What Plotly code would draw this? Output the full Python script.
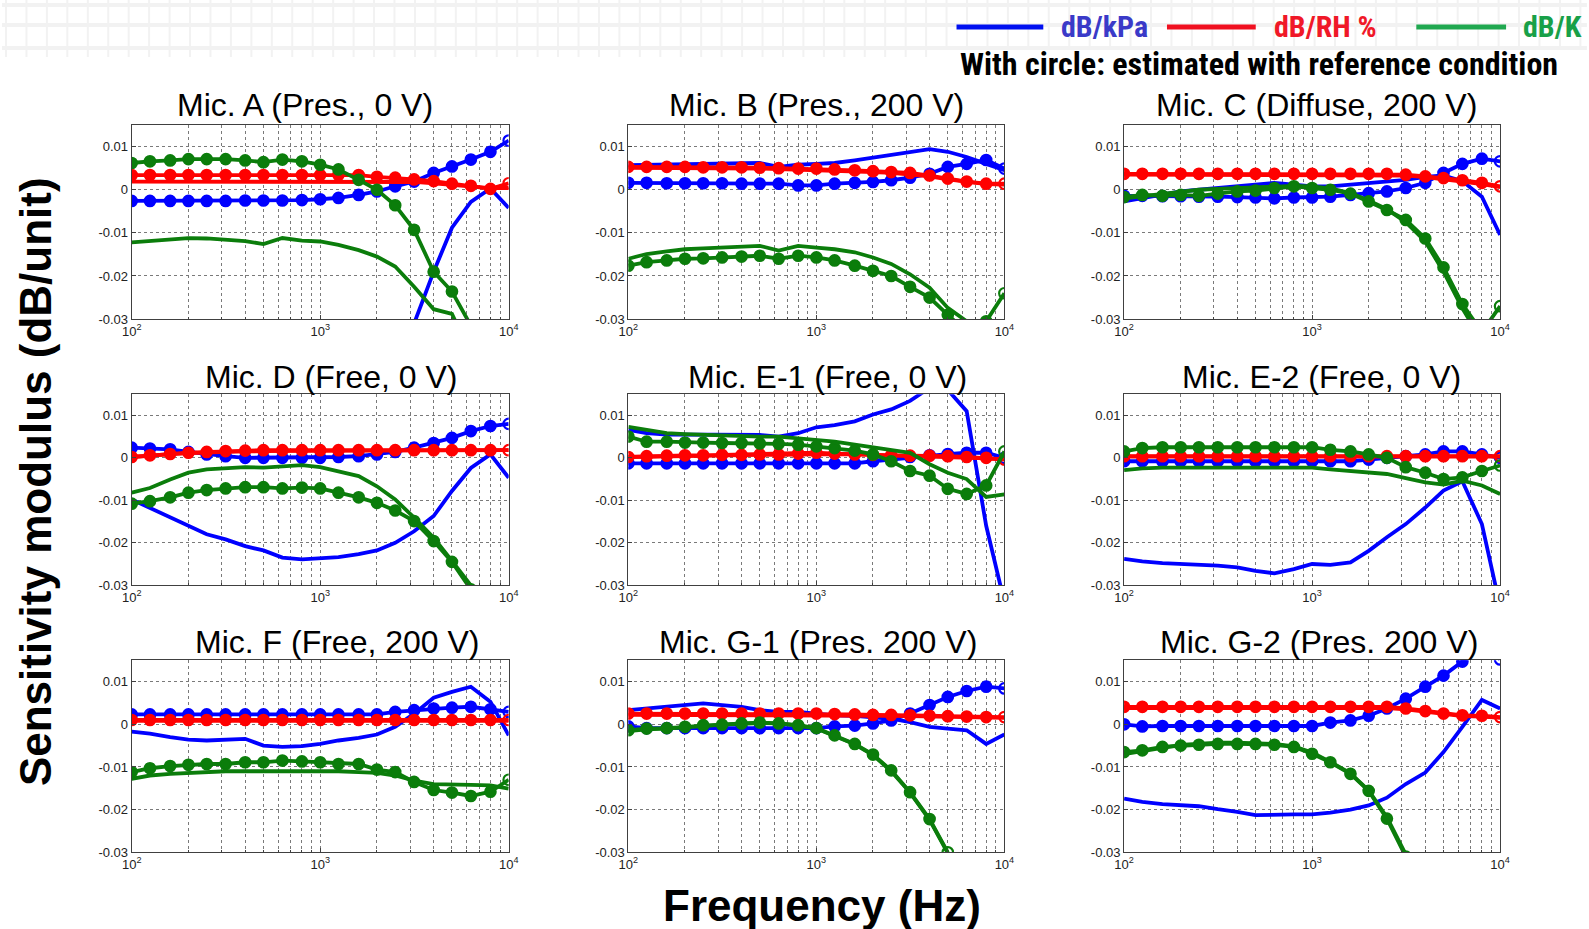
import plotly.graph_objects as go

N = None
W, H = 1589, 929

# ---------------- data ----------------
FREQ = [100, 125, 160, 200, 250, 315, 400, 500, 630, 800, 1000,
        1250, 1600, 2000, 2500, 3150, 4000, 5000, 6300, 8000, 10000]

X_TICKS = [100, 1000, 10000]
X_TICK_TEXT = ["10<sup>2</sup>", "10<sup>3</sup>", "10<sup>4</sup>"]
X_MINOR = [200, 300, 400, 500, 600, 700, 800, 900,
           2000, 3000, 4000, 5000, 6000, 7000, 8000, 9000]
Y_TICKS = [-0.03, -0.02, -0.01, 0, 0.01]
Y_TICK_TEXT = ["-0.03", "-0.02", "-0.01", "0", "0.01"]

TITLES = ["Mic. A (Pres., 0 V)", "Mic. B (Pres., 200 V)", "Mic. C (Diffuse, 200 V)",
          "Mic. D (Free, 0 V)", "Mic. E-1 (Free, 0 V)", "Mic. E-2 (Free, 0 V)",
          "Mic. F (Free, 200 V)", "Mic. G-1 (Pres. 200 V)", "Mic. G-2 (Pres. 200 V)"]
LEGEND_NAMES = ["dB/kPa", "dB/RH %", "dB/K"]
NOTE = "With circle: estimated with reference condition"
X_LABEL = "Frequency (Hz)"
Y_LABEL = "Sensitivity modulus (dB/unit)"

# Mic. A
A_kpa = [N, N, N, N, N, N, N, N, N, N, N, N, N, N, N, -0.031, -0.019, -0.0088, -0.0028, 0.0003, -0.0042]
A_kpa_c = [-0.0026, -0.0026, -0.0026, -0.0026, -0.0026, -0.0026, -0.0025, -0.0025, -0.0025, -0.0024, -0.0022,
           -0.0019, -0.0012, -0.0004, 0.0008, 0.0019, 0.0039, 0.0054, 0.0070, 0.0088, 0.0114]
A_rh = [0.0019, 0.0019, 0.0019, 0.0019, 0.0019, 0.0019, 0.0019, 0.0019, 0.0019, 0.0019, 0.0019,
        0.0019, 0.0019, 0.0019, 0.0019, 0.0018, 0.0015, 0.0012, 0.0008, 0.0004, 0.0004]
A_rh_c = [0.0034, 0.0034, 0.0034, 0.0034, 0.0034, 0.0034, 0.0034, 0.0034, 0.0034, 0.0034, 0.0034,
          0.0034, 0.0034, 0.0030, 0.0028, 0.0024, 0.0020, 0.0014, 0.0009, 0.0002, 0.0015]
A_k = [-0.0122, -0.0119, -0.0115, -0.0112, -0.0113, -0.0115, -0.0119, -0.0126, -0.0112, -0.0118, -0.0120,
       -0.0128, -0.0140, -0.0155, -0.0178, -0.0225, -0.0277, -0.0288, -0.0380, N, N]
A_k_c = [0.0062, 0.0066, 0.0068, 0.0071, 0.0071, 0.0071, 0.0068, 0.0064, 0.0070, 0.0066, 0.0058,
         0.0047, 0.0023, 0.0000, -0.0036, -0.0093, -0.0190, -0.0236, -0.0315, N, N]

# Mic. B
B_kpa = [0.0057, 0.0058, 0.0059, 0.0060, 0.0060, 0.0061, 0.0061, 0.0062, 0.0053, 0.0058, 0.0060,
         0.0062, 0.0068, 0.0074, 0.0080, 0.0086, 0.0094, 0.0088, 0.0076, 0.0060, 0.0045]
B_kpa_c = [0.0016, 0.0016, 0.0015, 0.0015, 0.0015, 0.0015, 0.0014, 0.0014, 0.0014, 0.0010, 0.0010,
           0.0014, 0.0016, 0.0018, 0.0022, 0.0028, 0.0037, 0.0053, 0.0060, 0.0069, 0.0049]
B_rh = [0.0051, 0.0051, 0.0051, 0.0051, 0.0051, 0.0050, 0.0050, 0.0049, 0.0048, 0.0047, 0.0046,
        0.0045, 0.0043, 0.0041, 0.0039, 0.0036, 0.0031, 0.0024, 0.0018, 0.0013, 0.0012]
B_rh_c = [0.0053, 0.0053, 0.0053, 0.0053, 0.0052, 0.0052, 0.0052, 0.0051, 0.0050, 0.0049, 0.0049,
          0.0047, 0.0045, 0.0043, 0.0041, 0.0039, 0.0033, 0.0026, 0.0019, 0.0014, 0.0014]
B_k = [-0.0160, -0.0149, -0.0143, -0.0138, -0.0136, -0.0134, -0.0131, -0.0130, -0.0141, -0.0130, -0.0134,
       -0.0138, -0.0145, -0.0157, -0.0172, -0.0196, -0.0227, -0.0274, -0.0305, N, N]
B_k_c = [-0.0176, -0.0168, -0.0164, -0.0160, -0.0159, -0.0157, -0.0155, -0.0153, -0.0160, -0.0153, -0.0157,
         -0.0164, -0.0176, -0.0188, -0.0200, -0.0225, -0.0250, -0.0290, -0.0330, -0.0305, -0.0240]

# Mic. C
C_kpa = [-0.0027, -0.0019, -0.0012, -0.0004, 0.0000, 0.0004, 0.0008, 0.0012, 0.0016, 0.0012, 0.0008,
         0.0008, 0.0012, 0.0016, 0.0020, 0.0023, 0.0030, 0.0033, 0.0020, -0.0016, -0.0105]
C_kpa_c = [-0.0014, -0.0014, -0.0015, -0.0015, -0.0016, -0.0016, -0.0017, -0.0018, -0.0020, -0.0018, -0.0018,
           -0.0016, -0.0012, -0.0008, -0.0004, 0.0004, 0.0016, 0.0039, 0.0060, 0.0072, 0.0066]
C_rh = [0.0035, 0.0035, 0.0035, 0.0035, 0.0035, 0.0035, 0.0035, 0.0035, 0.0035, 0.0035, 0.0035,
        0.0035, 0.0035, 0.0035, 0.0035, 0.0033, 0.0029, 0.0025, 0.0019, 0.0013, 0.0006]
C_rh_c = [0.0037, 0.0037, 0.0037, 0.0037, 0.0037, 0.0037, 0.0037, 0.0037, 0.0037, 0.0037, 0.0037,
          0.0037, 0.0037, 0.0037, 0.0037, 0.0035, 0.0031, 0.0027, 0.0022, 0.0016, 0.0008]
C_k = [-0.0020, -0.0015, -0.0010, -0.0005, 0.0000, 0.0002, 0.0004, 0.0006, 0.0008, 0.0009, 0.0008,
       0.0003, -0.0008, -0.0025, -0.0045, -0.0075, -0.0120, -0.0190, -0.0275, -0.0350, N]
C_k_c = [-0.0017, -0.0012, -0.0014, -0.0012, -0.0014, -0.0009, -0.0004, -0.0002, 0.0004, 0.0008, 0.0004,
         0.0000, -0.0009, -0.0027, -0.0047, -0.0070, -0.0113, -0.0180, -0.0265, -0.0330, -0.0270]

# Mic. D
D_kpa = [-0.0098, -0.0118, -0.0141, -0.0161, -0.0180, -0.0192, -0.0208, -0.0218, -0.0235, -0.0239, -0.0237,
         -0.0234, -0.0227, -0.0218, -0.0200, -0.0173, -0.0137, -0.0078, -0.0024, 0.0008, -0.0047]
D_kpa_c = [0.0024, 0.0022, 0.0020, 0.0014, 0.0008, 0.0004, 0.0000, 0.0000, 0.0000, 0.0000, 0.0000,
           0.0002, 0.0004, 0.0008, 0.0014, 0.0024, 0.0035, 0.0047, 0.0063, 0.0075, 0.0080]
D_rh = [0.0002, 0.0006, 0.0009, 0.0011, 0.0013, 0.0014, 0.0015, 0.0016, 0.0016, 0.0017, 0.0017,
        0.0017, 0.0017, 0.0017, 0.0018, 0.0018, 0.0018, 0.0018, 0.0018, 0.0018, 0.0018]
D_rh_c = [0.0002, 0.0006, 0.0009, 0.0012, 0.0014, 0.0016, 0.0017, 0.0018, 0.0018, 0.0018, 0.0018,
          0.0018, 0.0018, 0.0018, 0.0018, 0.0018, 0.0018, 0.0018, 0.0018, 0.0018, 0.0018]
D_k = [-0.0082, -0.0071, -0.0051, -0.0035, -0.0027, -0.0024, -0.0022, -0.0023, -0.0020, -0.0017, -0.0022,
       -0.0031, -0.0043, -0.0067, -0.0098, -0.0141, -0.0188, -0.0243, -0.0300, -0.0360, N]
D_k_c = [-0.0108, -0.0102, -0.0093, -0.0082, -0.0076, -0.0072, -0.0069, -0.0069, -0.0072, -0.0070, -0.0072,
         -0.0082, -0.0093, -0.0106, -0.0124, -0.0149, -0.0196, -0.0245, -0.0310, -0.0360, N]

# Mic. E-1
E1_kpa = [0.0066, 0.0058, 0.0055, 0.0055, 0.0055, 0.0055, 0.0054, 0.0054, 0.0050, 0.0058, 0.0072,
          0.0077, 0.0086, 0.0102, 0.0114, 0.0134, 0.0165, 0.0160, 0.0110, -0.0160, -0.0340]
E1_kpa_c = [-0.0013, -0.0013, -0.0013, -0.0013, -0.0013, -0.0013, -0.0013, -0.0013, -0.0013, -0.0013, -0.0013,
            -0.0013, -0.0013, -0.0008, -0.0004, 0.0002, 0.0006, 0.0009, 0.0012, 0.0012, 0.0000]
E1_rh = [0.0002, 0.0003, 0.0004, 0.0005, 0.0005, 0.0006, 0.0006, 0.0007, 0.0007, 0.0008, 0.0009,
         0.0009, 0.0008, 0.0007, 0.0006, 0.0005, 0.0004, 0.0003, 0.0001, -0.0001, -0.0003]
E1_rh_c = [0.0002, 0.0004, 0.0005, 0.0006, 0.0006, 0.0007, 0.0007, 0.0008, 0.0008, 0.0010, 0.0012,
           0.0010, 0.0008, 0.0007, 0.0006, 0.0005, 0.0005, 0.0004, 0.0002, 0.0000, -0.0004]
E1_k = [0.0073, 0.0065, 0.0058, 0.0056, 0.0054, 0.0052, 0.0051, 0.0050, 0.0050, 0.0046, 0.0042,
        0.0038, 0.0031, 0.0025, 0.0019, 0.0012, -0.0015, -0.0035, -0.0050, -0.0092, -0.0086]
E1_k_c = [0.0050, 0.0038, 0.0038, 0.0036, 0.0036, 0.0035, 0.0035, 0.0034, 0.0033, 0.0031, 0.0027,
          0.0023, 0.0017, 0.0008, -0.0008, -0.0031, -0.0042, -0.0073, -0.0085, -0.0065, 0.0015]

# Mic. E-2
E2_kpa = [-0.0238, -0.0244, -0.0248, -0.0250, -0.0250, -0.0254, -0.0258, -0.0266, -0.0272, -0.0262, -0.0250,
          -0.0252, -0.0246, -0.0219, -0.0187, -0.0156, -0.0117, -0.0077, -0.0055, -0.0156, -0.0350]
E2_kpa_c = [-0.0008, -0.0008, -0.0008, -0.0008, -0.0008, -0.0008, -0.0008, -0.0008, -0.0008, -0.0008, -0.0008,
            -0.0008, -0.0008, -0.0004, 0.0000, 0.0004, 0.0008, 0.0015, 0.0015, 0.0008, 0.0000]
E2_rh = [0.0003, 0.0003, 0.0003, 0.0003, 0.0003, 0.0003, 0.0003, 0.0003, 0.0003, 0.0003, 0.0003,
         0.0003, 0.0003, 0.0003, 0.0003, 0.0003, 0.0003, 0.0003, 0.0003, 0.0003, 0.0003]
E2_rh_c = [0.0004, 0.0004, 0.0004, 0.0004, 0.0004, 0.0004, 0.0004, 0.0004, 0.0004, 0.0004, 0.0004,
           0.0004, 0.0004, 0.0004, 0.0004, 0.0004, 0.0004, 0.0004, 0.0004, 0.0004, 0.0004]
E2_k = [-0.0029, -0.0025, -0.0023, -0.0023, -0.0023, -0.0023, -0.0023, -0.0023, -0.0023, -0.0023, -0.0023,
        -0.0027, -0.0031, -0.0035, -0.0038, -0.0048, -0.0058, -0.0063, -0.0054, -0.0065, -0.0085]
E2_k_c = [0.0015, 0.0023, 0.0025, 0.0025, 0.0025, 0.0025, 0.0025, 0.0025, 0.0025, 0.0025, 0.0025,
          0.0019, 0.0015, 0.0008, 0.0000, -0.0022, -0.0035, -0.0050, -0.0046, -0.0031, -0.0018]

# Mic. F
F_kpa = [-0.0017, -0.0022, -0.0030, -0.0036, -0.0038, -0.0035, -0.0034, -0.0050, -0.0053, -0.0051, -0.0046,
         -0.0038, -0.0032, -0.0024, -0.0006, 0.0025, 0.0062, 0.0076, 0.0088, 0.0053, -0.0026]
F_kpa_c = [0.0023, 0.0023, 0.0023, 0.0023, 0.0023, 0.0023, 0.0023, 0.0023, 0.0023, 0.0023, 0.0023,
           0.0023, 0.0023, 0.0023, 0.0029, 0.0033, 0.0037, 0.0039, 0.0041, 0.0035, 0.0029]
F_rh = [0.0008, 0.0008, 0.0008, 0.0008, 0.0008, 0.0008, 0.0008, 0.0008, 0.0008, 0.0008, 0.0008,
        0.0008, 0.0008, 0.0008, 0.0008, 0.0008, 0.0008, 0.0008, 0.0008, 0.0008, 0.0008]
F_rh_c = [0.0010, 0.0010, 0.0010, 0.0010, 0.0010, 0.0010, 0.0010, 0.0010, 0.0010, 0.0010, 0.0010,
          0.0010, 0.0010, 0.0010, 0.0010, 0.0010, 0.0010, 0.0010, 0.0010, 0.0010, 0.0010]
F_k = [-0.0128, -0.0120, -0.0116, -0.0114, -0.0112, -0.0110, -0.0110, -0.0110, -0.0110, -0.0109, -0.0108,
       -0.0110, -0.0112, -0.0114, -0.0120, -0.0132, -0.0140, -0.0142, -0.0142, -0.0143, -0.0151]
F_k_c = [-0.0112, -0.0103, -0.0098, -0.0095, -0.0093, -0.0093, -0.0089, -0.0089, -0.0085, -0.0087, -0.0089,
         -0.0093, -0.0093, -0.0106, -0.0112, -0.0135, -0.0154, -0.0160, -0.0168, -0.0158, -0.0130]

# Mic. G-1
G1_kpa = [0.0033, 0.0037, 0.0043, 0.0047, 0.0049, 0.0045, 0.0041, 0.0033, 0.0029, 0.0029, 0.0025,
          0.0021, 0.0020, 0.0017, 0.0013, 0.0005, -0.0006, -0.0010, -0.0014, -0.0046, -0.0024]
G1_kpa_c = [-0.0005, -0.0009, -0.0009, -0.0009, -0.0009, -0.0009, -0.0009, -0.0009, -0.0009, -0.0009, -0.0009,
            -0.0005, -0.0003, 0.0002, 0.0009, 0.0025, 0.0045, 0.0064, 0.0078, 0.0088, 0.0084]
G1_rh = [0.0022, 0.0022, 0.0022, 0.0022, 0.0022, 0.0022, 0.0022, 0.0022, 0.0022, 0.0022, 0.0022,
         0.0021, 0.0021, 0.0020, 0.0020, 0.0019, 0.0018, 0.0017, 0.0016, 0.0015, 0.0015]
G1_rh_c = [0.0025, 0.0025, 0.0025, 0.0025, 0.0025, 0.0025, 0.0025, 0.0025, 0.0025, 0.0025, 0.0025,
           0.0024, 0.0023, 0.0022, 0.0022, 0.0021, 0.0020, 0.0019, 0.0018, 0.0017, 0.0017]
G1_k = [-0.0016, -0.0012, -0.0010, -0.0007, -0.0003, -0.0001, 0.0001, 0.0003, 0.0002, -0.0003, -0.0010,
        -0.0027, -0.0047, -0.0072, -0.0110, -0.0160, -0.0224, -0.0302, N, N, N]
G1_k_c = [-0.0014, -0.0010, -0.0009, -0.0006, -0.0002, -0.0001, 0.0002, 0.0004, 0.0002, -0.0002, -0.0009,
          -0.0026, -0.0046, -0.0071, -0.0108, -0.0159, -0.0222, -0.0300, N, N, N]

# Mic. G-2
G2_kpa = [-0.0174, -0.0182, -0.0187, -0.0190, -0.0192, -0.0199, -0.0205, -0.0213, -0.0211, -0.0211, -0.0211,
          -0.0207, -0.0200, -0.0190, -0.0172, -0.0140, -0.0113, -0.0065, -0.0006, 0.0057, 0.0037]
G2_kpa_c = [0.0000, -0.0005, -0.0004, -0.0004, -0.0004, -0.0004, -0.0004, -0.0004, -0.0004, -0.0004, -0.0004,
            0.0004, 0.0009, 0.0020, 0.0037, 0.0060, 0.0088, 0.0114, 0.0147, 0.0190, 0.0152]
G2_rh = [0.0038, 0.0038, 0.0038, 0.0038, 0.0038, 0.0038, 0.0038, 0.0038, 0.0038, 0.0038, 0.0038,
         0.0038, 0.0038, 0.0038, 0.0038, 0.0035, 0.0029, 0.0023, 0.0019, 0.0018, 0.0015]
G2_rh_c = [0.0041, 0.0041, 0.0041, 0.0041, 0.0041, 0.0041, 0.0041, 0.0041, 0.0041, 0.0041, 0.0041,
           0.0041, 0.0041, 0.0041, 0.0041, 0.0037, 0.0031, 0.0025, 0.0021, 0.0020, 0.0017]
G2_k = [-0.0070, -0.0062, -0.0055, -0.0048, -0.0045, -0.0043, -0.0043, -0.0044, -0.0046, -0.0052, -0.0066,
        -0.0088, -0.0115, -0.0155, -0.0218, -0.0305, N, N, N, N, N]
G2_k_c = [-0.0065, -0.0061, -0.0053, -0.0050, -0.0048, -0.0046, -0.0046, -0.0046, -0.0048, -0.0053, -0.0069,
          -0.0089, -0.0116, -0.0156, -0.0221, -0.0310, N, N, N, N, N]

PANELS = [
    (A_kpa, A_kpa_c, A_rh, A_rh_c, A_k, A_k_c),
    (B_kpa, B_kpa_c, B_rh, B_rh_c, B_k, B_k_c),
    (C_kpa, C_kpa_c, C_rh, C_rh_c, C_k, C_k_c),
    (D_kpa, D_kpa_c, D_rh, D_rh_c, D_k, D_k_c),
    (E1_kpa, E1_kpa_c, E1_rh, E1_rh_c, E1_k, E1_k_c),
    (E2_kpa, E2_kpa_c, E2_rh, E2_rh_c, E2_k, E2_k_c),
    (F_kpa, F_kpa_c, F_rh, F_rh_c, F_k, F_k_c),
    (G1_kpa, G1_kpa_c, G1_rh, G1_rh_c, G1_k, G1_k_c),
    (G2_kpa, G2_kpa_c, G2_rh, G2_rh_c, G2_k, G2_k_c),
]

# ---------------- style / layout ----------------
BLUE, RED, GREEN = "#0000ff", "#ff0000", "#0b7d0b"
COLORS = [BLUE, RED, GREEN]
LEG_COLORS_LINE = ["#0010f0", "#f01020", "#20a850"]
LEG_COLORS_TEXT = ["#3a3ac8", "#f01828", "#18a048"]
FONT = "Liberation Sans, Arial, sans-serif"
NARROW = "Roboto Condensed, Liberation Sans Narrow, Arial Narrow, sans-serif"

# target pixel positions (measured on the reference)
COL_PX = [(130, 508), (628, 1005), (1125, 1502)]
ROW_PX = [(125, 319), (394, 585), (660, 852)]
TITLE_CX = [304, 817, 1318, 330, 828, 1323, 336, 818, 1320]
TITLE_CY = [105, 377, 642]

# calibration of the rendered page (observed offset/scale of the screenshot)
OX, SX, SY = 8.0, 0.99, 0.991


def px(x):
    return ((x - OX) / SX) / W


def py(y):
    return 1 - (y / SY) / H


fig = go.Figure()
layout = dict(width=W, height=H, margin=dict(l=0, r=0, t=0, b=0, pad=0),
              paper_bgcolor="white", plot_bgcolor="white", showlegend=False,
              font=dict(family=FONT, color="#000"))

annotations = []
shapes = []

for i, series in enumerate(PANELS):
    r, c = divmod(i, 3)
    sfx = "" if i == 0 else str(i + 1)
    xa, ya = "x" + sfx, "y" + sfx
    for j in range(3):
        plain, circ = series[2 * j], series[2 * j + 1]
        col = COLORS[j]
        fig.add_trace(go.Scatter(x=FREQ, y=plain, mode="lines", xaxis=xa, yaxis=ya,
                                 line=dict(color=col, width=3.8), hoverinfo="skip"))
        last = max(k for k, v in enumerate(circ) if v is not None)
        symbols = ["circle-open" if k == last else "circle" for k in range(len(circ))]
        fig.add_trace(go.Scatter(x=FREQ, y=circ, mode="lines+markers", xaxis=xa, yaxis=ya,
                                 line=dict(color=col, width=3.8),
                                 marker=dict(symbol=symbols, size=10.5, color=col,
                                             line=dict(color=col, width=2.2)),
                                 hoverinfo="skip"))
    x0, x1 = COL_PX[c]
    y0, y1 = ROW_PX[r]
    common = dict(showgrid=True, gridcolor="#7a7a7a", griddash="dot", gridwidth=1,
                  showline=True, linecolor="#404040", linewidth=1, mirror=True,
                  ticks="inside", ticklen=4, tickcolor="#404040", zeroline=False,
                  tickfont=dict(family=FONT, size=13, color="#222"))
    layout["xaxis" + sfx] = dict(common, type="log", range=[2, 4], domain=[px(x0), px(x1)],
                                 anchor=ya, tickmode="array", tickvals=X_TICKS,
                                 ticktext=X_TICK_TEXT,
                                 minor=dict(tickmode="array", tickvals=X_MINOR, showgrid=True,
                                            gridcolor="#7a7a7a", griddash="dot", gridwidth=1,
                                            ticks="inside", ticklen=2, tickcolor="#404040"))
    layout["yaxis" + sfx] = dict(common, range=[-0.03, 0.015], domain=[py(y1), py(y0)],
                                 anchor=xa, tickmode="array", tickvals=Y_TICKS,
                                 ticktext=Y_TICK_TEXT)
    annotations.append(dict(text=TITLES[i], x=px(TITLE_CX[i]), y=py(TITLE_CY[r]),
                            xref="paper", yref="paper", xanchor="center", yanchor="middle",
                            showarrow=False, font=dict(family=FONT, size=32, color="#000")))

# axis labels
annotations.append(dict(text="<b>%s</b>" % Y_LABEL, x=px(33), y=py(481), xref="paper", yref="paper",
                        textangle=-90, showarrow=False, xanchor="center", yanchor="middle",
                        font=dict(family=FONT, size=44, color="#000")))
annotations.append(dict(text="<b>%s</b>" % X_LABEL, x=px(822), y=py(905), xref="paper", yref="paper",
                        showarrow=False, xanchor="center", yanchor="middle",
                        font=dict(family=FONT, size=44, color="#000")))

# faint slide background pattern at top
for yy in (5, 25, 48):
    shapes.append(dict(type="line", xref="paper", yref="paper", x0=px(0), x1=px(W), y0=py(yy), y1=py(yy),
                       line=dict(color="#f2f2f2", width=4), layer="below"))
xx = 4
while xx < W:
    shapes.append(dict(type="line", xref="paper", yref="paper", x0=px(xx), x1=px(xx),
                       y0=py(0), y1=py(57 if xx < 940 else 50),
                       line=dict(color="#f2f2f2", width=2), layer="below"))
    xx += 20.5

# custom legend
LEG_LINE_X = [(957, 1044), (1168, 1257), (1418, 1508)]
LEG_TEXT_X = [1060, 1273, 1523]
for j in range(3):
    a, b = LEG_LINE_X[j]
    shapes.append(dict(type="line", xref="paper", yref="paper", x0=px(a), x1=px(b),
                       y0=py(27), y1=py(27), line=dict(color=LEG_COLORS_LINE[j], width=5)))
    annotations.append(dict(text="<b>%s</b>" % LEGEND_NAMES[j], x=px(LEG_TEXT_X[j]), y=py(26),
                            xref="paper", yref="paper", xanchor="left", yanchor="middle",
                            showarrow=False, font=dict(family=NARROW, size=30, color=LEG_COLORS_TEXT[j])))
annotations.append(dict(text="<b>%s</b>" % NOTE, x=px(958), y=py(64), xref="paper", yref="paper",
                        xanchor="left", yanchor="middle", showarrow=False,
                        font=dict(family=NARROW, size=32, color="#000")))

layout["annotations"] = annotations
layout["shapes"] = shapes
fig.update_layout(**layout)
fig.write_html("out.html")
